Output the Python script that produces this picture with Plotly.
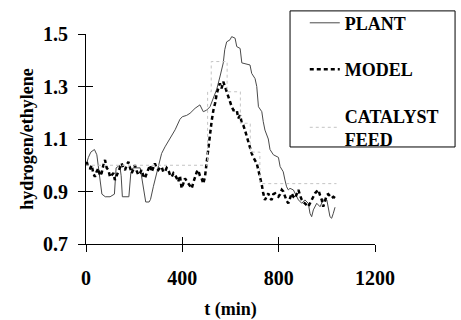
import plotly.graph_objects as go

# ---------------- data ----------------
plant_t = [0, 10, 20, 35, 45, 55, 66, 80, 100, 118, 125, 140, 146, 151, 178, 186, 195, 225, 235,
           248, 262, 268, 280, 300, 314, 328, 342, 356, 370, 390, 400, 418, 432, 453, 473, 487,
           501, 515, 529, 543, 557, 570, 576, 584, 598, 605, 619, 626, 640, 647, 681, 688, 702,
           709, 716, 730, 736, 743, 757, 764, 778, 799, 806, 819, 826, 833, 840, 847, 861, 875,
           882, 896, 909, 923, 930, 937, 944, 958, 972, 985, 1000, 1013, 1020, 1027, 1034]
plant_v = [1.00, 1.03, 1.05, 1.06, 1.04, 0.97, 0.89, 0.88, 0.88, 0.89, 0.99, 1.00, 0.96, 0.88,
           0.88, 0.97, 0.99, 0.99, 0.93, 0.86, 0.86, 0.87, 0.92, 1.00, 1.045, 1.07, 1.09, 1.11,
           1.135, 1.175, 1.185, 1.19, 1.198, 1.217, 1.23, 1.204, 1.21, 1.223, 1.26, 1.29, 1.34,
           1.39, 1.44, 1.47, 1.478, 1.49, 1.484, 1.452, 1.445, 1.39, 1.382, 1.35, 1.33, 1.30,
           1.223, 1.204, 1.166, 1.134, 1.10, 1.06, 1.04, 1.03, 0.995, 0.975, 0.944, 0.918, 0.906,
           0.912, 0.906, 0.88, 0.868, 0.855, 0.868, 0.855, 0.817, 0.804, 0.83, 0.855, 0.842,
           0.868, 0.868, 0.804, 0.798, 0.817, 0.84]

model_t = [3, 10, 17, 24, 30, 37, 44, 51, 58, 65, 72, 79, 86, 93, 100, 107, 114, 120, 127, 134,
           141, 148, 155, 162, 169, 176, 183, 190, 197, 203, 210, 217, 224, 231, 238, 245, 252,
           259, 266, 273, 280, 286, 293, 300, 307, 314, 321, 328, 335, 342, 349, 356, 363, 370,
           377, 383, 390, 397, 404, 411, 418, 425, 432, 439, 446, 453, 460, 466, 473, 480, 487,
           494, 498, 501, 508, 515, 522, 529, 536, 543, 556, 563, 570, 577, 584, 591, 598, 605,
           612, 626, 632, 640, 647, 653, 660, 667, 674, 681, 688, 695, 709, 716, 723, 730, 736,
           743, 750, 757, 764, 771, 778, 785, 792, 799, 806, 813, 819, 826, 833, 840, 847, 854,
           861, 868, 875, 882, 889, 896, 903, 909, 916, 923, 930, 937, 944, 951, 958, 965, 972,
           979, 985, 992, 1000, 1006, 1013, 1020, 1027, 1034]
model_v = [1.013, 0.99, 0.988, 1.0, 0.97, 0.956, 0.975, 0.988, 0.96, 0.97, 1.0, 1.02, 0.99,
           0.982, 0.955, 0.963, 0.97, 0.944, 0.96, 0.975, 0.99, 1.007, 0.99, 0.982, 1.0, 1.013,
           0.99, 0.97, 0.985, 1.0, 0.98, 0.963, 0.97, 0.982, 0.96, 0.95, 0.97, 0.988, 1.0, 0.975,
           0.99, 1.007, 0.99, 0.982, 0.99, 0.994, 0.975, 0.975, 0.99, 0.982, 0.963, 0.956, 0.97,
           0.963, 0.95, 0.937, 0.96, 0.912, 0.93, 0.95, 0.94, 0.93, 0.92, 0.912, 0.935, 0.956,
           0.975, 0.982, 0.96, 0.95, 0.93, 0.956, 0.988, 1.0, 1.058, 1.134, 1.17, 1.21, 1.236,
           1.274, 1.312, 1.293, 1.318, 1.30, 1.28, 1.261, 1.242, 1.223, 1.21, 1.21, 1.179, 1.19,
           1.16, 1.153, 1.134, 1.11, 1.084, 1.07, 1.045, 1.03, 1.007, 0.98, 0.956, 0.925, 0.893,
           0.868, 0.88, 0.893, 0.875, 0.868, 0.89, 0.893, 0.885, 0.88, 0.89, 0.906, 0.9, 0.88,
           0.865, 0.855, 0.875, 0.893, 0.88, 0.874, 0.89, 0.906, 0.885, 0.868, 0.86, 0.855, 0.85,
           0.842, 0.855, 0.868, 0.88, 0.893, 0.9, 0.906, 0.885, 0.868, 0.842, 0.86, 0.887, 0.89,
           0.88, 0.875, 0.88, 0.875]

catalyst_t = [0, 505, 520, 586, 641, 682, 722, 1040]
catalyst_v = [1.0, 1.28, 1.395, 1.28, 1.16, 1.05, 0.93, 0.93]

x_ticks = [0, 400, 800, 1200]
y_ticks = [0.7, 0.9, 1.1, 1.3, 1.5]

# ---------------- figure ----------------
FONT = "Liberation Serif"

fig = go.Figure()
fig.add_trace(go.Scatter(x=plant_t, y=plant_v, mode="lines", name="PLANT",
                         legendgroup="a", line=dict(color="#4a4a4a", width=1)))
fig.add_trace(go.Scatter(x=model_t, y=model_v, mode="lines", name="MODEL",
                         legendgroup="b", line=dict(color="black", width=2.5, dash="4px,3px")))
fig.add_trace(go.Scatter(x=catalyst_t, y=catalyst_v, mode="lines", line_shape="hv",
                         name="CATALYST<br>FEED", legendgroup="c",
                         line=dict(color="#c4c4c4", width=1, dash="dot")))
# helper trace so the inner-tick axes are drawn
fig.add_trace(go.Scatter(x=[None], y=[None], xaxis="x2", yaxis="y2", showlegend=False,
                         hoverinfo="skip"))

axis_common = dict(showgrid=False, zeroline=False, linecolor="black", linewidth=1,
                   tickcolor="black", tickwidth=1, ticklen=7, automargin=False)

fig.update_layout(
    width=461, height=320,
    margin=dict(l=86, r=86, t=34, b=76, autoexpand=False),
    paper_bgcolor="white", plot_bgcolor="white",
    font=dict(family=FONT, size=20, color="black", weight="bold"),
    xaxis=dict(range=[0, 1200], tickvals=x_ticks, ticks="outside", showline=True,
               ticklabelstandoff=9,
               title=dict(text="t (min)", font=dict(size=18, family=FONT, weight="bold"),
                          standoff=21),
               **axis_common),
    yaxis=dict(range=[0.7, 1.5], tickvals=y_ticks, tickformat=".1f", ticks="outside",
               showline=True, ticklabelstandoff=6,
               title=dict(text="hydrogen/ethylene",
                          font=dict(size=18, family=FONT, weight="bold"), standoff=4),
               **axis_common),
    xaxis2=dict(range=[0, 1200], tickvals=x_ticks, ticks="inside", overlaying="x",
                anchor="y", side="bottom", showticklabels=False, showline=False,
                **axis_common),
    yaxis2=dict(range=[0.7, 1.5], tickvals=y_ticks, ticks="inside", overlaying="y",
                anchor="x", side="left", showticklabels=False, showline=False,
                **axis_common),
    showlegend=True,
    legend=dict(x=0.757, y=1.14, xanchor="left", yanchor="top",
                bgcolor="rgba(0,0,0,0)", borderwidth=0,
                font=dict(size=18, family=FONT, weight="bold"),
                tracegroupgap=20, itemwidth=30),
    shapes=[dict(type="rect", xref="paper", yref="paper",
                 x0=0.706, x1=1.277, y0=0.462, y1=1.110,
                 line=dict(color="black", width=1), fillcolor="rgba(0,0,0,0)")],
)

fig.write_html("out.html")
